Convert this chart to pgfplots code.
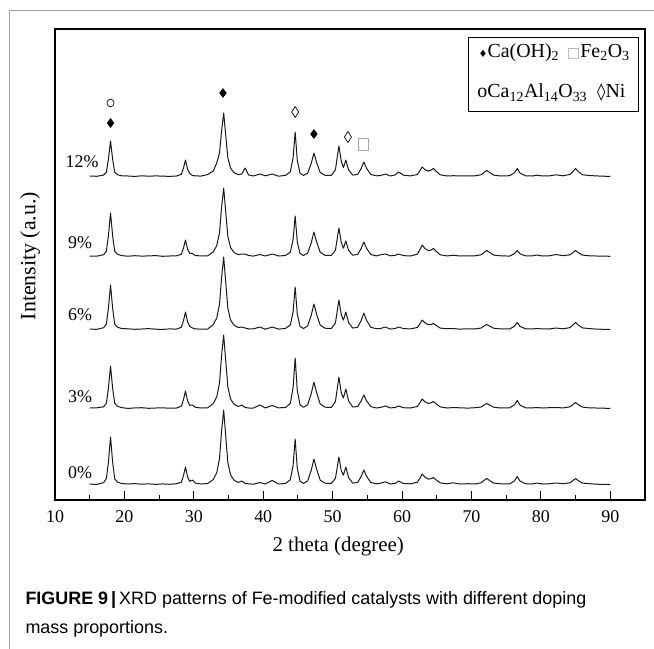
\documentclass[border=0pt]{standalone}
\usepackage{fontspec}
\setmainfont{Liberation Serif}
\newfontfamily\capfont{Liberation Sans}
\newfontfamily\sym{DejaVu Sans}
\usepackage{pgfplots}
\pgfplotsset{compat=1.18}
\usepackage{pgfplotstable}

\pgfplotstableread{
x s0 s3 s6 s9 s12
15.0 1 1 1 1 1
16.0 0.5 1.2 0.6 0.8 0.7
17.0 2.4 2.2 2.3 2.3 1.9
17.4 6.3 5.7 5.9 5.8 4.8
17.7 23 21 22 21.5 18
18.0 48 43 45 44 36
18.3 23 21 22 21.5 18
18.6 6.3 5.7 5.9 5.8 4.8
19.0 2.9 2.7 2.8 2.7 2.3
19.6 1.5 1.4 1.5 1.4 1.2
20.5 1.0 0.6 1.2 0.8 1.0
21.5 1.4 1.1 0.7 1.3 0.6
22.5 0.8 1.3 1.0 0.9 1.2
23.5 1.2 0.7 1.4 1.1 0.8
24.5 0.6 1.0 0.8 1.4 1.1
25.5 1.1 1.2 0.6 0.7 0.9
26.5 0.7 0.8 1.1 1.0 0.6
27.5 1.3 1.0 0.9 1.2 1.0
28.2 2.8 2.8 2.8 2.7 2.7
28.5 9.1 9.1 9.1 8.7 8.7
28.8 18 18 18 17 17
29.1 8.2 8.2 8.2 7.8 7.8
29.4 3.7 3.7 3.7 3.6 3.6
29.8 5 4 2 3.5 1.5
30.2 2.0 1.8 1.2 1.5 1.2
31.0 1.0 1.0 0.8 1.1 0.9
32.0 1.5 1.2 1.0 1.2 2.5
32.8 5.5 5.4 5.4 5.1 6
33.3 12.3 12.1 12.0 11.4 14
33.7 26.3 25.9 25.6 24.2 24
34.0 54 53.3 52.6 49.7 46
34.3 75 74 73 69 64
34.6 48.8 48.1 47.5 44.9 41.6
34.9 22.5 22.2 21.9 20.7 19.2
35.3 10 9.9 9.8 9.3 8.7
35.8 4.8 4.7 4.7 4.5 4.2
36.4 2.5 2.5 2.5 2.4 2.3
36.9 4 4 3 3 3
37.4 1.5 1.5 2 3 9
37.9 1.2 1.0 1.0 1.5 2
38.6 0.8 1.0 1.2 0.9 1.0
39.5 2.5 4 3 2.5 3
40.3 1.0 1.1 0.8 1.0 1.2
41.3 4.5 3.5 3 3 3
42.2 1.0 1.2 0.9 1.0 0.8
43.2 1.5 1.4 1.6 1.5 1.6
43.9 5.2 5.6 4.9 4.8 5.1
44.3 19.4 21.4 18.2 17.4 19
44.6 46 51 43 41 45
44.9 17.1 18.9 16.1 15.4 16.8
45.3 3.8 4.1 3.6 3.5 3.7
45.8 1.6 1.7 1.5 1.5 1.6
46.4 4.1 4.2 4.1 4.0 3.9
46.9 14.3 14.9 14.3 13.8 13.2
47.3 26 27 26 25 24
47.7 15.6 16.2 15.6 15 14.4
48.2 4.9 5.1 4.9 4.8 4.6
48.9 1.8 1.8 1.8 1.7 1.7
49.8 1.5 1.6 1.4 1.5 1.5
50.4 6.6 7.4 7 6.8 7.2
50.9 28 32 30 29 31
51.25 14 16 15 14.5 15.5
51.55 9.9 11 9.9 8.8 9.4
51.9 18 20 18 16 17
52.3 7.3 8 7.3 6.6 7
52.9 1.9 2 1.9 1.8 1.9
53.6 2.5 2.4 2.7 2.5 2.5
54.1 8.5 8 9.5 8.5 8.5
54.5 15 14 17 15 15
54.9 8.5 8 9.5 8.5 8.5
55.5 2.5 2.4 2.7 2.5 2.5
56.3 1.2 1.0 1.3 1.1 1.2
56.9 1.8 1.6 1.5 2.2 1.5
57.6 3.2 3 3 3 3
58.3 1.0 1.1 0.9 1.2 1.0
59.0 1.6 1.5 1.5 1.6 2.0
59.5 4 3 3 3 5
60.2 1.5 1.3 1.4 1.4 1.8
61.2 1.2 1.0 1.1 1.0 1.1
62.2 2.7 2.5 2.5 2.8 2.5
62.6 7.1 6.5 6.5 7.6 6.5
62.9 11 10 10 12 10
63.3 7.8 7.2 7.1 8.4 7.3
63.8 5.9 5.6 5.3 6.4 5.9
64.2 6.3 6.3 5.5 7 7
64.5 7.5 7.5 6.5 8.5 8.5
64.9 5.2 5.2 4.6 5.8 5.8
65.5 2.1 2.1 1.9 2.2 2.2
66.5 1.2 1.0 1.3 1.1 1.0
67.4 2.2 1.5 1.4 1.8 1.3
68.3 1.0 1.2 0.9 1.0 1.1
69.5 1.3 0.9 1.2 1.1 1.0
70.5 1.0 1.3 1.0 1.2 1.2
71.4 2.2 2.0 2.0 2.2 2.2
71.8 4.6 4 4 4.6 4.6
72.2 6.5 5.5 5.5 6.5 6.5
72.6 4.6 4 4 4.6 4.6
73.2 1.9 1.8 1.8 1.9 1.9
74.2 1.2 1.0 1.1 1.2 1.0
75.5 1.0 1.2 1.0 0.9 1.3
76.2 4.2 4.2 3.8 3.4 4.2
76.6 8.5 8.5 7.5 6.5 8.5
77.0 3.8 3.8 3.5 3.1 3.8
77.8 1.3 1.2 1.2 1.1 1.2
78.8 1.0 1.1 1.0 1.2 1.0
79.4 2.0 1.5 1.5 2.0 1.8
80.2 1.0 1.0 1.1 1.0 1.0
81.2 1.2 1.3 1.0 1.2 1.1
82.2 2.0 1.5 2.0 2.5 2.2
83.2 1.3 1.1 1.2 1.3 1.2
84.2 2.2 2.2 2.4 2.2 2.6
84.7 4.9 4.9 5.6 4.9 6.2
85.0 6.5 6.5 7.5 6.5 8.5
85.4 4.3 4.3 4.9 4.3 5.4
86.0 1.9 1.9 2.1 1.9 2.2
87.0 1.3 1.1 1.4 1.2 1.5
88.0 0.8 1.0 0.9 1.0 1.1
89.0 0.6 0.8 0.7 0.9 0.8
90.0 0.5 0.6 0.6 0.7 0.6
}\xrd

\begin{document}
\begin{tikzpicture}
\useasboundingbox (0,0) rectangle (654bp,-649bp);
\fill[white] (0,0) rectangle (654bp,-649bp);
\draw[gray!75, line width=1bp] (9.5bp,-649bp) -- (9.5bp,-10.5bp) -- (654bp,-10.5bp);
\begin{axis}[
  at={(55bp,-500bp)}, anchor=south west, scale only axis,
  width=590bp, height=471bp,
  xmin=10, xmax=95, ymin=0, ymax=471,
  xtick={10,20,...,90}, minor xtick={15,25,...,85},
  ytick=\empty,
  xtick pos=left, tick align=inside,
  major tick length=9bp, minor tick length=5bp,
  every tick/.style={black, line width=1bp},
  axis line style={line width=1.2bp},
  /pgf/number format/assume math mode=true,
  xticklabel style={font=\fontsize{18}{18}\selectfont, yshift=-7bp},
  xlabel={2 theta (degree)},
  xlabel style={font=\fontsize{21}{21}\selectfont, at={(axis description cs:0.48,0)}, anchor=center, yshift=-46bp},
  ylabel={Intensity (a.u.)},
  ylabel style={font=\fontsize{22}{22}\selectfont, at={(axis description cs:-0.042,0.518)}, anchor=center},
  clip=false,
]
\addplot[black!90, line width=1bp, line join=round] table[x=x, y expr=\thisrow{s0}+15] {\xrd};
\addplot[black!90, line width=1bp, line join=round] table[x=x, y expr=\thisrow{s3}+91] {\xrd};
\addplot[black!90, line width=1bp, line join=round] table[x=x, y expr=\thisrow{s6}+170] {\xrd};
\addplot[black!90, line width=1bp, line join=round] table[x=x, y expr=\thisrow{s9}+243] {\xrd};
\addplot[black!90, line width=1bp, line join=round] table[x=x, y expr=\thisrow{s12}+323] {\xrd};
% phase markers
\addplot[only marks, mark=diamond*, mark size=4.5bp, black] coordinates {(18.0,377) (34.2,407) (47.3,366)};
\addplot[only marks, mark=diamond, mark size=5.5bp, black, mark options={xscale=0.85, line width=0.7bp}] coordinates {(44.6,388) (52.2,363)};
\addplot[only marks, mark=o, mark size=3.5bp, black, mark options={yscale=1.1, line width=0.7bp}] coordinates {(18.0,397)};
\addplot[only marks, mark=square, mark size=5bp, gray!70, mark options={yscale=1.2, line width=0.8bp}] coordinates {(54.5,356)};
% sample labels
\node[font=\fontsize{18}{18}\selectfont] at (axis cs:13.9,338) {12\%};
\node[font=\fontsize{18}{18}\selectfont] at (axis cs:13.6,257) {9\%};
\node[font=\fontsize{18}{18}\selectfont] at (axis cs:13.6,185) {6\%};
\node[font=\fontsize{18}{18}\selectfont] at (axis cs:13.6,103) {3\%};
\node[font=\fontsize{18}{18}\selectfont] at (axis cs:13.6,27) {0\%};
% legend box
\draw[line width=0.8bp] (axis description cs:0.7,0.983) rectangle (axis description cs:0.988,0.824);
\node[font=\fontsize{20}{20}\selectfont] at (axis description cs:0.846,0.949)
  {{\sym\fontsize{10}{10}\selectfont ♦}Ca(OH)\textsubscript{2}\hspace{8bp}{\color{gray!70}\sym\fontsize{14}{14}\selectfont □}Fe\textsubscript{2}O\textsubscript{3}};
\node[font=\fontsize{20}{20}\selectfont] at (axis description cs:0.8415,0.864)
  {oCa\textsubscript{12}Al\textsubscript{14}O\textsubscript{33}\hspace{10bp}{\sym\fontsize{17}{17}\selectfont ◊}Ni};
\end{axis}
\node[anchor=base west, font=\capfont\fontsize{18}{18}\selectfont] at (22bp,-604bp)
  {\textbf{FIGURE 9}\,\textbf{|}\,XRD patterns of Fe-modified catalysts with different doping};
\node[anchor=base west, font=\capfont\fontsize{18}{18}\selectfont] at (22bp,-633bp)
  {mass proportions.};
\end{tikzpicture}
\end{document}
